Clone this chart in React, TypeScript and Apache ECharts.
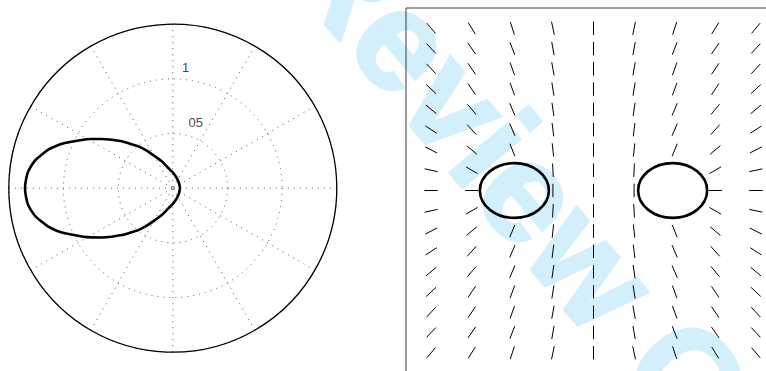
import React, { useEffect, useRef } from "react";
import * as echarts from "echarts";

// ---- Polar curve (angle in degrees, radius) ----
const curveAngles = [0, 40, 69, 88.1, 102.6, 112.4, 119.2, 124.8, 129.5, 133.9, 137.5, 141.6, 145.3, 148.8,
  152.1, 157.3, 159.9, 162.8, 165.7, 168.7, 173.3, 176.7, 180,
  183.3, 186.7, 191.3, 194.3, 197.2, 200.1, 202.7, 207.9, 211.2, 214.7, 218.4, 222.5, 226.1, 230.5,
  235.2, 240.8, 247.6, 257.4, 271.9, 291, 320, 360];
const curveRadii = [0.066, 0.074, 0.1, 0.139, 0.189, 0.266, 0.334, 0.418, 0.497, 0.565, 0.635, 0.714, 0.791, 0.868,
  0.943, 1.07, 1.131, 1.192, 1.238, 1.286, 1.331, 1.345, 1.352,
  1.345, 1.331, 1.286, 1.238, 1.192, 1.131, 1.07, 0.943, 0.868, 0.791, 0.714, 0.635, 0.565, 0.497,
  0.418, 0.334, 0.266, 0.189, 0.139, 0.1, 0.074, 0.066];

const radialTicks = [0.5, 1];
const radialTickLabels = ["05", "1"];

// ---- Direction field ----
const fieldX = [-8, -6, -4, -2, 0, 2, 4, 6, 8];
const fieldY = [8, 7, 6, 5, 4, 3, 2, 1, 0, -1, -2, -3, -4, -5, -6, -7, -8];
// angle of each segment in degrees (math convention), null = no segment
const fieldAngles: (number | null)[][] = [
  [-50, -58, -72, -78, 90, 78, 72, 58, 50],
  [-47, -55, -69, -80, 90, 80, 69, 55, 47],
  [-47, -56, -70, -80, 90, 80, 70, 56, 47],
  [-43, -56, -70, -81, 90, 81, 70, 56, 43],
  [-40, -50, -67, -82, 90, 82, 67, 50, 40],
  [-33, -48, -67, -83, 90, 83, 67, 48, 33],
  [-27, -40, -68, -84, 90, 84, 68, 40, 27],
  [-12, -30, null, -87, 90, 87, null, 30, 12],
  [0, 0, null, 90, 90, 90, null, 0, 0],
  [12, 30, null, 87, 90, -87, null, -30, -12],
  [27, 40, 68, 84, 90, -84, -68, -40, -27],
  [33, 48, 67, 83, 90, -83, -67, -48, -33],
  [40, 50, 67, 82, 90, -82, -67, -50, -40],
  [43, 56, 70, 81, 90, -81, -70, -56, -43],
  [47, 56, 70, 80, 90, -80, -70, -56, -47],
  [47, 55, 69, 80, 90, -80, -69, -55, -47],
  [50, 58, 72, 78, 90, -78, -72, -58, -50],
];

// ellipses: center x, center y, semi-axis x, semi-axis y
const ellipseCx = [-3.9, 3.9];
const ellipseCy = [0, 0];
const ellipseRx = [1.7, 1.7];
const ellipseRy = [1.35, 1.35];

const watermarkText = "Review Copy";

export default function App() {
  const ref = useRef<HTMLDivElement>(null);
  useEffect(() => {
    if (!ref.current) return;
    const chart = echarts.init(ref.current, undefined, { renderer: "svg" });

    const curveData = curveAngles.map((a, i) => [curveRadii[i], a]);
    const labelOffsets = [[8, -12], [-6, -12]];
    const labelData = radialTicks.map((r, i) => ({
      value: [r, 82],
      label: { offset: labelOffsets[i] },
      name: radialTickLabels[i],
    }));

    const fieldData: number[][] = [];
    fieldY.forEach((y, i) => {
      fieldX.forEach((x, j) => {
        const a = fieldAngles[i][j];
        if (a !== null) fieldData.push([x, y, a]);
      });
    });
    const ellipseData = ellipseCx.map((cx, i) => [cx, ellipseCy[i], ellipseRx[i], ellipseRy[i]]);

    const SEG = 0.66;

    chart.setOption({
      animation: false,
      backgroundColor: "#fff",
      graphic: [
        {
          type: "text",
          x: 598,
          y: 272,
          z: -1,
          rotation: (-50 * Math.PI) / 180,
          silent: true,
          style: {
            text: watermarkText,
            font: "bold 142px 'Liberation Sans', Arial, sans-serif",
            fill: "#d3effc",
            stroke: "#d3effc",
            lineWidth: 3,
            textAlign: "center",
            textVerticalAlign: "middle",
            align: "center",
            verticalAlign: "middle",
          },
        },
      ],
      polar: { center: [172.8, 188.2], radius: 164 },
      angleAxis: {
        type: "value",
        min: 0,
        max: 360,
        interval: 30,
        startAngle: 0,
        clockwise: false,
        axisLine: { show: true, lineStyle: { color: "#000", width: 1.3 } },
        axisTick: { show: false },
        axisLabel: { show: false },
        splitLine: { show: true, lineStyle: { color: "#555", width: 1, type: [1, 5] } },
        z: 3,
      },
      radiusAxis: {
        type: "value",
        min: 0,
        max: 1.5,
        interval: 0.5,
        axisLine: { show: false },
        axisTick: { show: false },
        axisLabel: { show: false },
        splitLine: { show: true, lineStyle: { color: "#555", width: 1, type: [1, 5] } },
        z: 3,
      },
      grid: {
        left: 406,
        top: 8,
        width: 375,
        height: 365,
        show: true,
        borderColor: "#3a3a3a",
        borderWidth: 1,
        backgroundColor: "transparent",
        z: 3,
      },
      xAxis: { type: "value", min: -9.24, max: 9.24, show: false },
      yAxis: { type: "value", min: -9, max: 9, show: false },
      series: [
        {
          type: "line",
          coordinateSystem: "polar",
          data: curveData,
          smooth: 0.25,
          symbol: "none",
          lineStyle: { color: "#000", width: 2.6 },
          z: 5,
        },
        {
          type: "scatter",
          coordinateSystem: "polar",
          data: labelData,
          symbolSize: 0,
          z: 5,
          label: {
            show: true,
            position: "inside",
            formatter: (p: any) => p.name,
            color: "#111",
            fontSize: 13,
            fontFamily: "'Liberation Sans', Arial, sans-serif",
            align: "left",
            verticalAlign: "middle",
          },
        },
        {
          type: "custom",
          coordinateSystem: "cartesian2d",
          data: fieldData,
          z: 5,
          renderItem: (params: any, api: any) => {
            const p = api.coord([api.value(0), api.value(1)]);
            const a = (api.value(2) * Math.PI) / 180;
            const h = api.size([SEG, 0])[0] / 2;
            return {
              type: "line",
              shape: {
                x1: p[0] - h * Math.cos(a),
                y1: p[1] + h * Math.sin(a),
                x2: p[0] + h * Math.cos(a),
                y2: p[1] - h * Math.sin(a),
              },
              style: { stroke: "#000", lineWidth: 1 },
            };
          },
        },
        {
          type: "custom",
          coordinateSystem: "cartesian2d",
          data: ellipseData,
          z: 6,
          renderItem: (params: any, api: any) => {
            const p = api.coord([api.value(0), api.value(1)]);
            const s = api.size([api.value(2), api.value(3)]);
            return {
              type: "ellipse",
              shape: { cx: p[0], cy: p[1], rx: s[0], ry: s[1] },
              style: { stroke: "#000", lineWidth: 2.6, fill: "none" },
            };
          },
        },
      ],
    });
    return () => chart.dispose();
  }, []);
  return (
    <div style={{ position: "absolute", left: 0, top: 0, width: 766, height: 371, overflow: "hidden" }}>
      <div ref={ref} style={{ width: 800, height: 400 }} />
    </div>
  );
}
